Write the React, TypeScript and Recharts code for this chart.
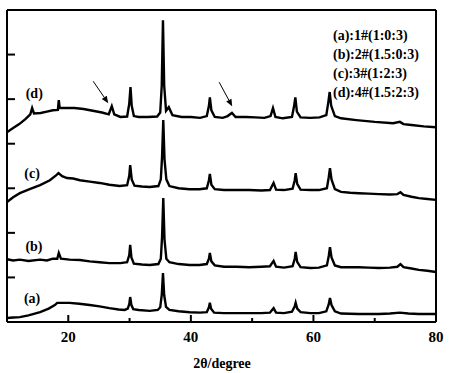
import React from 'react';
import { LineChart, Line, XAxis, YAxis, ReferenceLine, ReferenceDot } from 'recharts';

// XRD patterns, stacked with an offset; [2θ, intensity (a.u.)]
const patternA: [number, number][] = [
  [10, 0.09], [11, 0.1], [12.1, 0.11], [13.5, 0.15], [15.4, 0.22], [16.8, 0.3], [17.8, 0.38], [18.2, 0.43],
  [19.2, 0.43], [20.2, 0.43], [21.8, 0.41], [23.5, 0.38], [25.1, 0.35], [26.7, 0.31], [28.2, 0.28], [29.2, 0.27],
  [29.7, 0.3], [29.95, 0.4], [30.1, 0.56], [30.3, 0.38], [30.6, 0.29], [31.5, 0.27], [33.3, 0.25], [34.6, 0.27],
  [35.0, 0.33], [35.25, 0.6], [35.45, 1.1], [35.65, 0.6], [35.95, 0.34], [36.5, 0.27], [38, 0.24], [39.8, 0.22],
  [41.5, 0.21], [42.6, 0.22], [42.95, 0.33], [43.1, 0.43], [43.3, 0.3], [43.8, 0.21], [45.4, 0.2], [47.5, 0.2],
  [49.5, 0.2], [51.5, 0.2], [52.9, 0.21], [53.5, 0.31], [53.9, 0.21], [55.2, 0.2], [56.5, 0.23], [56.95, 0.35],
  [57.1, 0.43], [57.35, 0.3], [57.9, 0.22], [59.5, 0.2], [60.9, 0.2], [62.1, 0.24], [62.5, 0.4], [62.7, 0.54],
  [62.95, 0.38], [63.5, 0.24], [64.5, 0.19], [67.4, 0.18], [70.7, 0.18], [72.5, 0.19], [74.1, 0.21], [75.5, 0.19],
  [77.2, 0.18], [80, 0.18],
];

const patternB: [number, number][] = [
  [10, 1.41], [11, 1.38], [12.1, 1.4], [13.5, 1.37], [15.4, 1.4], [16.5, 1.38], [17.5, 1.42], [18.2, 1.42],
  [18.45, 1.55], [18.8, 1.42], [20.2, 1.4], [21.9, 1.39], [23.5, 1.36], [25.1, 1.34], [26.7, 1.32], [28.5, 1.32],
  [29.6, 1.34], [29.95, 1.5], [30.1, 1.73], [30.3, 1.45], [30.7, 1.31], [32, 1.29], [33.3, 1.28], [34.7, 1.3],
  [35.1, 1.42], [35.3, 1.9], [35.5, 2.78], [35.7, 1.85], [36.0, 1.42], [36.5, 1.34], [38, 1.3], [39.8, 1.28],
  [41.4, 1.28], [42.6, 1.3], [42.95, 1.42], [43.1, 1.55], [43.35, 1.36], [43.9, 1.27], [45.4, 1.24], [47.5, 1.24],
  [49.5, 1.23], [51.5, 1.24], [52.9, 1.25], [53.5, 1.37], [53.9, 1.24], [55.2, 1.22], [56.6, 1.25], [56.95, 1.42],
  [57.1, 1.57], [57.35, 1.35], [57.9, 1.23], [59.5, 1.21], [60.9, 1.22], [62.2, 1.27], [62.5, 1.48], [62.7, 1.68],
  [62.95, 1.45], [63.5, 1.27], [64.5, 1.23], [66, 1.23], [67.4, 1.23], [69, 1.22], [70.7, 1.21], [72.5, 1.22],
  [73.7, 1.24], [74.2, 1.3], [74.7, 1.23], [76, 1.2], [77.2, 1.17], [78.6, 1.15], [80, 1.12],
];

const patternC: [number, number][] = [
  [10, 2.69], [11, 2.8], [12.1, 2.89], [13.7, 2.98], [15.4, 3.07], [17.0, 3.18], [18.1, 3.3], [18.4, 3.34],
  [19.0, 3.27], [19.8, 3.23], [20.8, 3.22], [21.9, 3.18], [23.5, 3.15], [25.1, 3.12], [26.7, 3.08], [28.4, 3.05],
  [29.6, 3.07], [29.95, 3.28], [30.1, 3.52], [30.35, 3.2], [30.8, 3.06], [32, 3.04], [33.3, 3.03], [34.7, 3.05],
  [35.1, 3.2], [35.3, 3.7], [35.5, 4.53], [35.7, 3.65], [36.0, 3.2], [36.5, 3.05], [38, 3.0], [39.8, 2.98],
  [41.4, 2.98], [42.6, 3.0], [42.95, 3.18], [43.1, 3.32], [43.35, 3.08], [43.9, 2.98], [45.4, 2.96], [47.5, 2.96],
  [49.5, 2.96], [51.5, 2.95], [52.9, 2.96], [53.5, 3.12], [53.9, 2.97], [55.2, 2.96], [56.6, 2.99], [56.95, 3.18],
  [57.1, 3.34], [57.35, 3.1], [57.9, 2.97], [59.5, 2.96], [60.9, 2.96], [62.2, 3.0], [62.5, 3.25], [62.7, 3.45],
  [62.95, 3.2], [63.5, 2.98], [64.5, 2.92], [66, 2.9], [67.4, 2.89], [69, 2.88], [70.7, 2.87], [72.5, 2.86],
  [73.7, 2.87], [74.2, 2.91], [74.7, 2.85], [76, 2.81], [77.2, 2.78], [78.6, 2.76], [80, 2.74],
];

const patternD: [number, number][] = [
  [10, 4.26], [11, 4.35], [12, 4.44], [13, 4.55], [13.8, 4.66], [14.1, 4.8], [14.4, 4.68], [15.5, 4.69],
  [16.5, 4.72], [17.5, 4.75], [18.3, 4.76], [18.45, 4.98], [18.6, 4.8], [19.5, 4.8], [21, 4.8], [22.5, 4.78],
  [24, 4.74], [25.5, 4.7], [26.6, 4.66], [27.1, 4.84], [27.5, 4.66], [28.5, 4.6], [29.6, 4.61], [29.95, 4.9],
  [30.15, 5.27], [30.35, 4.85], [30.7, 4.62], [31.5, 4.6], [33, 4.6], [34.5, 4.61], [35.0, 4.7], [35.25, 5.3],
  [35.45, 6.77], [35.65, 5.3], [35.95, 4.74], [36.4, 4.82], [37.0, 4.64], [38.5, 4.6], [40, 4.6], [41.5, 4.58],
  [42.6, 4.62], [42.95, 4.85], [43.1, 5.04], [43.35, 4.75], [43.9, 4.6], [45.2, 4.58], [46.0, 4.62], [46.7, 4.69],
  [47.3, 4.6], [49, 4.6], [50.5, 4.59], [52, 4.58], [53.0, 4.62], [53.4, 4.8], [53.8, 4.6], [55, 4.57],
  [56.5, 4.6], [56.85, 4.85], [57.05, 5.04], [57.3, 4.72], [57.9, 4.59], [59.5, 4.58], [61.0, 4.59], [62.1, 4.64],
  [62.45, 4.95], [62.65, 5.16], [62.9, 4.85], [63.5, 4.62], [64.5, 4.57], [67, 4.53], [70, 4.49], [73, 4.46],
  [74.1, 4.49], [74.7, 4.44], [76, 4.42], [78, 4.39], [80, 4.37],
];

const seriesLabels = ['(a)', '(b)', '(c)', '(d)'];
const labelSpots: [number, number][] = [[14.1, 0.54], [14.4, 1.7], [14.1, 3.34], [14.45, 5.13]];
const legendLines = ['(a):1#(1:0:3)', '(b):2#(1.5:0:3)', '(c):3#(1:2:3)', '(d):4#(1.5:2:3)'];
const arrows: [number, number, number, number][] = [
  [24.07, 5.4, 26.52, 4.91],
  [44.62, 5.38, 46.74, 4.84],
];
const xTicks = [20, 30, 40, 50, 60, 70, 80];
const yTicks = [1, 2, 3, 4, 5, 6];

const FONT = 'Liberation Serif, DejaVu Serif, serif';
const patterns = [patternA, patternB, patternC, patternD];
const toRows = (p: [number, number][]) => p.map(([x, y]) => ({ x, y }));

const XTick = (props: any) => {
  const { x, y, payload } = props;
  const major = payload.value % 20 === 0;
  return (
    <g>
      <line x1={x} x2={x} y1={y} y2={y - (major ? 7 : 4)} stroke="#000" strokeWidth={2} />
      {major && (
        <text x={x} y={y + 20} textAnchor="middle" style={{ fontFamily: FONT }} fontWeight="bold" fontSize={15} fill="#000">
          {payload.value}
        </text>
      )}
    </g>
  );
};

const YTick = (props: any) => {
  const { x, y } = props;
  return <line x1={x} x2={x + 8} y1={y} y2={y} stroke="#000" strokeWidth={2} />;
};

const Arrow = (props: any) => {
  const { x1, y1, x2, y2 } = props;
  const a = Math.atan2(y2 - y1, x2 - x1);
  const len = 7;
  const w = 3;
  const bx = x2 - len * Math.cos(a);
  const by = y2 - len * Math.sin(a);
  const px = -Math.sin(a) * w;
  const py = Math.cos(a) * w;
  return (
    <g>
      <line x1={x1} y1={y1} x2={bx} y2={by} stroke="#000" strokeWidth={1} />
      <polygon points={`${x2},${y2} ${bx + px},${by + py} ${bx - px},${by - py}`} fill="#000" />
    </g>
  );
};

export default function App() {
  return (
    <div style={{ position: 'absolute', left: 0, top: 0, width: 450, height: 373, background: '#fff', fontFamily: FONT }}>
      <LineChart width={450} height={373} margin={{ top: 0, right: 0, bottom: 0, left: 0 }}>
        <XAxis
          dataKey="x"
          type="number"
          domain={[10, 80]}
          ticks={xTicks}
          allowDataOverflow
          height={51}
          tickSize={0}
          tickMargin={0}
          tick={<XTick />}
          axisLine={{ stroke: '#000', strokeWidth: 2 }}
        />
        <XAxis xAxisId="top" orientation="top" type="number" domain={[10, 80]} height={10} tick={false} tickLine={false} axisLine={{ stroke: '#000', strokeWidth: 2 }} />
        <YAxis
          type="number"
          domain={[0, 7]}
          ticks={yTicks}
          allowDataOverflow
          width={7}
          tickSize={0}
          tickMargin={0}
          tick={<YTick />}
          axisLine={{ stroke: '#000', strokeWidth: 2 }}
        />
        <YAxis yAxisId="right" orientation="right" type="number" domain={[0, 7]} width={14} tick={false} tickLine={false} axisLine={{ stroke: '#000', strokeWidth: 2 }} />
        {patterns.map((p, i) => (
          <Line
            key={i}
            data={toRows(p)}
            dataKey="y"
            type="linear"
            stroke="#000"
            strokeWidth={2.4}
            strokeLinejoin="miter"
            dot={false}
            isAnimationActive={false}
          />
        ))}
        {arrows.map(([x1, y1, x2, y2], i) => (
          <ReferenceLine key={'ar' + i} segment={[{ x: x1, y: y1 }, { x: x2, y: y2 }]} shape={<Arrow />} ifOverflow="visible" />
        ))}
        {seriesLabels.map((s, i) => (
          <ReferenceDot
            key={s}
            x={labelSpots[i][0]}
            y={labelSpots[i][1]}
            r={0}
            fill="none"
            stroke="none"
            label={{ value: s, position: 'center', style: { fontFamily: FONT }, fontWeight: 'bold', fontSize: 14, fill: '#000' }}
          />
        ))}
      </LineChart>
      <svg width={450} height={373} style={{ position: 'absolute', left: 0, top: 0, pointerEvents: 'none' }}>
        {legendLines.map((t, i) => (
          <text key={t} x={333} y={40 + i * 19} style={{ fontFamily: FONT }} fontWeight="bold" fontSize={14} fill="#000">
            {t}
          </text>
        ))}
        <text x={222} y={368} textAnchor="middle" style={{ fontFamily: FONT }} fontWeight="bold" fontSize={14} fill="#000">
          2θ/degree
        </text>
      </svg>
    </div>
  );
}
